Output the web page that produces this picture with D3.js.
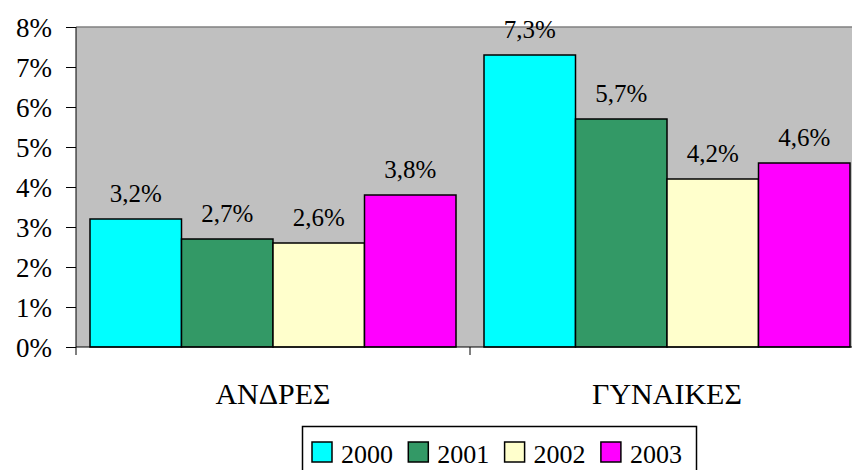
<!DOCTYPE html>
<html>
<head>
<meta charset="utf-8">
<script src="https://cdn.jsdelivr.net/npm/d3@7"></script>
<style>
  body { margin: 0; background: #fff; }
</style>
</head>
<body>
<div id="chart"></div>
<script>
// data
var categories = ['ΑΝΔΡΕΣ', 'ΓΥΝΑΙΚΕΣ'];
var years = ['2000', '2001', '2002', '2003'];
var values2000 = [3.2, 7.3];
var values2001 = [2.7, 5.7];
var values2002 = [2.6, 4.2];
var values2003 = [3.8, 4.6];
var yTicks = [0, 1, 2, 3, 4, 5, 6, 7, 8];
var colors = ['#00FFFF', '#339966', '#FFFFCC', '#FF00FF'];

var series = [values2000, values2001, values2002, values2003];

var width = 852, height = 470;
var pLeft = 76, pRight = 864, pTop = 27, pBottom = 347;
var font = '"Liberation Serif"';

var svg = d3.select('#chart').append('svg')
  .attr('width', width).attr('height', height);

var x0 = d3.scaleBand().domain(categories).range([pLeft, pRight]);
var x1 = d3.scaleBand().domain(years).range([14, x0.bandwidth() - 14]);
var y = d3.scaleLinear().domain([0, 8]).range([pBottom, pTop]);
var color = d3.scaleOrdinal().domain(years).range(colors);

// plot background
svg.append('rect')
  .attr('x', pLeft).attr('y', pTop)
  .attr('width', pRight - pLeft).attr('height', pBottom - pTop)
  .style('fill', '#C0C0C0');
svg.append('line')
  .attr('x1', pLeft).attr('x2', pRight).attr('y1', pTop).attr('y2', pTop)
  .style('stroke', '#808080').style('stroke-width', 1.5);

// bars
var groups = svg.selectAll('g.cat')
  .data(categories)
  .enter().append('g')
    .attr('class', 'cat')
    .attr('transform', d => 'translate(' + x0(d) + ',0)');

groups.selectAll('rect')
  .data((d, i) => years.map((yr, j) => ({year: yr, v: series[j][i]})))
  .enter().append('rect')
    .attr('x', d => x1(d.year))
    .attr('y', d => y(d.v))
    .attr('width', x1.bandwidth())
    .attr('height', d => y(0) - y(d.v))
    .style('fill', d => color(d.year))
    .style('stroke', '#000')
    .style('stroke-width', 1.5);

groups.selectAll('text')
  .data((d, i) => years.map((yr, j) => ({year: yr, v: series[j][i]})))
  .enter().append('text')
    .attr('x', d => x1(d.year) + x1.bandwidth() / 2)
    .attr('y', d => y(d.v) - 17)
    .attr('text-anchor', 'middle')
    .style('font-family', font)
    .style('font-size', '25px')
    .text(d => d.v.toFixed(1).replace('.', ',') + '%');

// y axis
var yAxis = d3.axisLeft(y).tickValues(yTicks).tickSize(10).tickPadding(14)
  .tickFormat(d => d + '%');
var ga = svg.append('g').attr('transform', 'translate(' + pLeft + ',0)').call(yAxis);
ga.select('.domain').remove();
ga.append('line').attr('x1', 0).attr('x2', 0).attr('y1', pTop).attr('y2', pBottom + 8)
  .style('stroke', '#000');
ga.selectAll('.tick line').style('stroke', '#000');
ga.selectAll('.tick text')
  .style('font-family', font)
  .style('font-size', '27px')
  .style('fill', '#000')
  .attr('dy', '0.35em');

// x axis
svg.append('line')
  .attr('x1', pLeft).attr('x2', pRight).attr('y1', pBottom).attr('y2', pBottom)
  .style('stroke', '#000');
svg.selectAll('line.xtick')
  .data(categories.slice(1))
  .enter().append('line')
    .attr('class', 'xtick')
    .attr('x1', d => x0(d)).attr('x2', d => x0(d))
    .attr('y1', pBottom).attr('y2', pBottom + 8)
    .style('stroke', '#000');
svg.selectAll('text.xlab')
  .data(categories)
  .enter().append('text')
    .attr('class', 'xlab')
    .attr('x', d => x0(d) + x0.bandwidth() / 2)
    .attr('y', 404)
    .attr('text-anchor', 'middle')
    .style('font-family', font)
    .style('font-size', '30px')
    .text(d => d);

// legend
var legend = svg.append('g').attr('transform', 'translate(302,426)');
legend.append('rect')
  .attr('x', 0.5).attr('y', 0.5).attr('width', 394).attr('height', 60)
  .style('fill', '#fff').style('stroke', '#000').style('stroke-width', 1.5);
var item = legend.selectAll('g.item')
  .data(years)
  .enter().append('g')
    .attr('class', 'item')
    .attr('transform', (d, i) => 'translate(' + (10 + i * 96.3) + ',0)');
item.append('rect')
  .attr('x', 0).attr('y', 16).attr('width', 20).attr('height', 20)
  .style('fill', d => color(d))
  .style('stroke', '#000').style('stroke-width', 1.5);
item.append('text')
  .attr('x', 29).attr('y', 37)
  .style('font-family', font)
  .style('font-size', '26px')
  .text(d => d);
</script>
</body>
</html>
